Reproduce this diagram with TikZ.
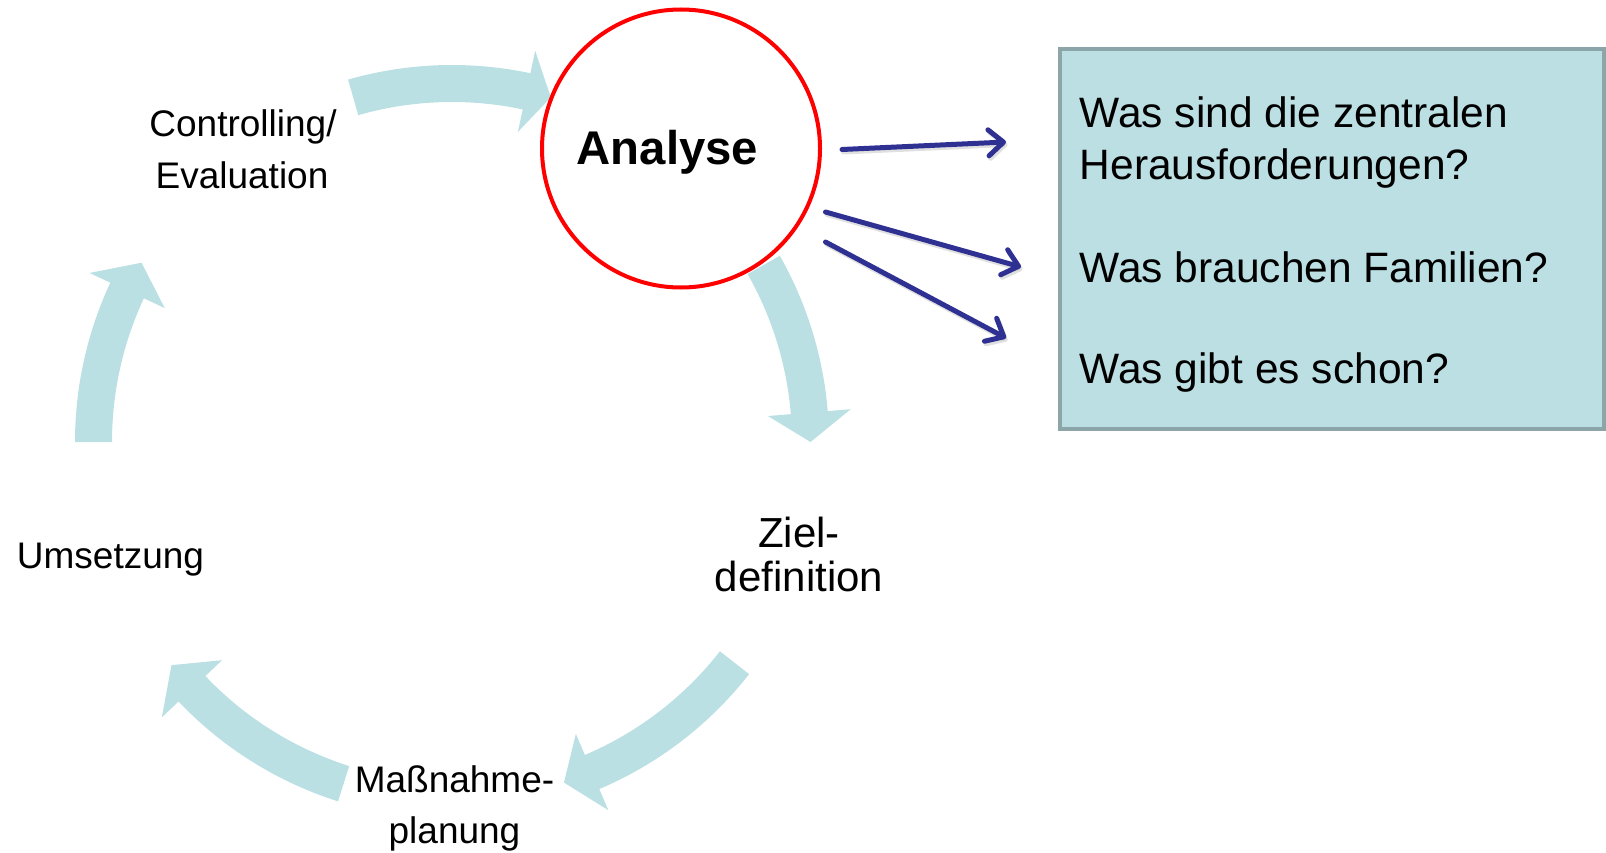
\documentclass[tikz,border=0pt]{standalone}
\usepackage{fontspec}
\setmainfont{Liberation Sans}
\usetikzlibrary{arrows.meta,calc}
\definecolor{cyc}{HTML}{BBE0E3}
\definecolor{boxfill}{HTML}{BBDFE3}
\definecolor{boxline}{HTML}{8CA5A8}
\definecolor{navy}{HTML}{2E3192}
\tikzset{
  cycarrow/.style={fill=cyc, draw=none},
  lbl/.style={inner sep=0pt, anchor=base, font=\fontsize{37}{42}\selectfont},
  zlbl/.style={inner sep=0pt, anchor=base, font=\fontsize{42}{46}\selectfont},
  qlbl/.style={inner sep=0pt, anchor=base west, font=\fontsize{42.5}{50}\selectfont},
  qbox/.style={draw=boxline, line width=4pt, fill=boxfill, inner sep=0pt, anchor=north west},
  ring/.style={circle, draw=red, line width=4pt, fill=white, inner sep=0pt},
  blarrow/.style={draw=navy, line width=5pt, line cap=round, -{Straight Barb[length=15pt,width=26pt,line cap=round,line join=round]}},
  blshadow/.style={draw=black!35, opacity=0.35, line width=5pt, line cap=round, -{Straight Barb[length=15pt,width=26pt,line cap=round,line join=round]}, transform canvas={shift={(1.5,2.5)}}}
}
\newcommand\cycarr[3]{%
  \fill[cycarrow] ($(cc)+(#1:377)$) arc[start angle=#1, end angle=#2, radius=377]
    -- ($(cc)+(#2:400)$) -- ($(cc)+(#3:358.5)$) -- ($(cc)+(#2:317)$)
    -- ($(cc)+(#2:340)$) arc[start angle=#2, end angle=#1, radius=340] -- cycle;}
\begin{document}
\begin{tikzpicture}[x=1pt,y=-1pt]
\useasboundingbox (0,0) rectangle (1606,853);
\coordinate (cc) at (452,442);
% cycle arrows
\cycarr{-106}{-78}{-74}
\cycarr{-29.6}{-4.7}{0}
\cycarr{38}{67}{71.8}
\cycarr{107.6}{136.5}{141.5}
\cycarr{180}{205}{210}
% Analyse circle
\node[ring, minimum size=278pt] (analyse) at (681,148.5) {};
\node[inner sep=0pt, anchor=base, font=\fontsize{47.3}{50}\selectfont\bfseries] (analyseText) at (667.5,165) {Analyse};
% labels
\node[lbl] (ctrl1) at (243,136.5) {Controlling/};
\node[lbl] (ctrl2) at (242,189) {Evaluation};
\node[lbl] (ums) at (110.5,568) {Umsetzung};
\node[zlbl] (ziel1) at (799,547) {Ziel-};
\node[zlbl] (ziel2) at (799,591) {definition};
\node[lbl] (mass1) at (454.5,792) {Maßnahme-};
\node[lbl] (mass2) at (454.5,843) {planung};
% question box
\node[qbox, minimum width=544pt, minimum height=380pt] (qbox) at (1058,47) {};
\node[qlbl] (q1a) at (1079.5,128) {Was sind die zentralen};
\node[qlbl] (q1b) at (1079.5,179.5) {Herausforderungen?};
\node[qlbl] (q2) at (1079.5,282) {Was brauchen Familien?};
\node[qlbl] (q3) at (1079.5,383) {Was gibt es schon?};
% blue arrows
\coordinate (s1) at (842,149.5);
\coordinate (e1) at (1006,142);
\coordinate (s2) at (825.5,212);
\coordinate (e2) at (1021,267);
\coordinate (s3) at (825.5,242);
\coordinate (e3) at (1006,338);
\draw[blshadow] (s1) -- (e1);
\draw[blshadow] (s2) -- (e2);
\draw[blshadow] (s3) -- (e3);
\draw[blarrow] (s1) -- (e1);
\draw[blarrow] (s2) -- (e2);
\draw[blarrow] (s3) -- (e3);
\end{tikzpicture}
\end{document}
